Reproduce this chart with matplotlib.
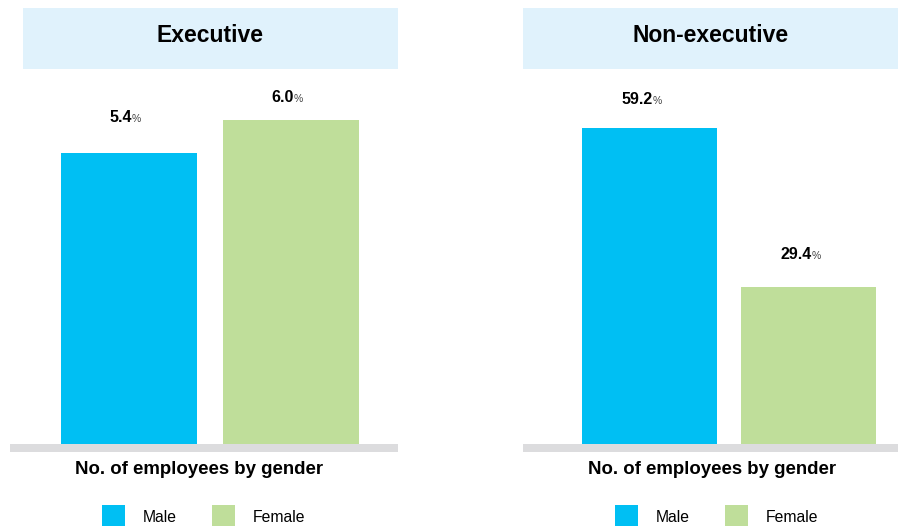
import matplotlib
matplotlib.use("Agg")
import matplotlib.pyplot as plt
from matplotlib.patches import Patch

# data
panels = ["Executive", "Non-executive"]
genders = ["Male", "Female"]
executive_pct = [5.4, 6.0]
non_executive_pct = [59.2, 29.4]
xlabel = "No. of employees by gender"

# style
plt.rcParams["font.family"] = ["Liberation Sans", "DejaVu Sans"]
colors = ["#00BFF3", "#BFDE9A"]
title_bg = "#E0F2FC"
base_gray = "#DCDCDE"

W, H = 898, 526
fig = plt.figure(figsize=(W / 100, H / 100), dpi=100)


def box(x0, y0, x1, y1):
    # pixel box (top-left origin) -> figure fraction rect
    return [x0 / W, 1 - y1 / H, (x1 - x0) / W, (y1 - y0) / H]


# layout per panel (pixels)
plot_boxes = [(10, 80, 398, 452), (523, 80, 898, 452)]
title_boxes = [(23, 8, 398, 69), (523, 8, 898, 69)]
xlims = [(-0.735, 1.66), (-0.796, 1.563)]
bar_widths = [0.84, 0.85]
ytops = [6.75, 68.2]
xlabel_x = [199, 712]
legend_x = [203.5, 716.5]
label_gap_px = [[31, 18], [24, 28]]  # label baseline above bar top

values = [executive_pct, non_executive_pct]

for k in range(2):
    # title box
    tax = fig.add_axes(box(*title_boxes[k]))
    tax.set_facecolor(title_bg)
    tax.set_xticks([])
    tax.set_yticks([])
    for s in tax.spines.values():
        s.set_visible(False)
    tax.text(0.5, 0.55, panels[k], ha="center", va="center",
             fontsize=16.5, fontweight="bold", transform=tax.transAxes)

    # bars
    ax = fig.add_axes(box(*plot_boxes[k]))
    x0, y0, x1, y1 = plot_boxes[k]
    ytop = ytops[k]
    ybot = -ytop * 8 / (y1 - y0 - 8)
    ax.bar(range(len(genders)), values[k], width=bar_widths[k], color=colors, zorder=2)
    ax.axhspan(ybot, 0, color=base_gray, lw=0, zorder=1)
    ax.set_xlim(*xlims[k])
    ax.set_ylim(ybot, ytop)
    ax.axis("off")

    for i, v in enumerate(values[k]):
        dy = label_gap_px[k][i] * 0.72
        ax.annotate(f"{v:.1f}", (i, v), xytext=(2.2, dy), textcoords="offset points",
                    ha="right", va="baseline", fontsize=11.5, fontweight="bold")
        ax.annotate("%", (i, v), xytext=(2.0, dy), textcoords="offset points",
                    ha="left", va="baseline", fontsize=7.5, color="#444444")

    fig.text(xlabel_x[k] / W, 1 - 469 / H, xlabel, ha="center", va="center",
             fontsize=13.4, fontweight="bold")

    handles = [Patch(facecolor=c, edgecolor="none") for c in colors]
    fig.legend(handles, genders, loc="center", ncol=2, frameon=False,
               bbox_to_anchor=(legend_x[k] / W, 1 - 517 / H),
               fontsize=11.3, handlelength=1.47, handleheight=1.9,
               handletextpad=1.15, columnspacing=2.2, borderpad=0, borderaxespad=0)

fig.savefig("out.png", dpi=100)
